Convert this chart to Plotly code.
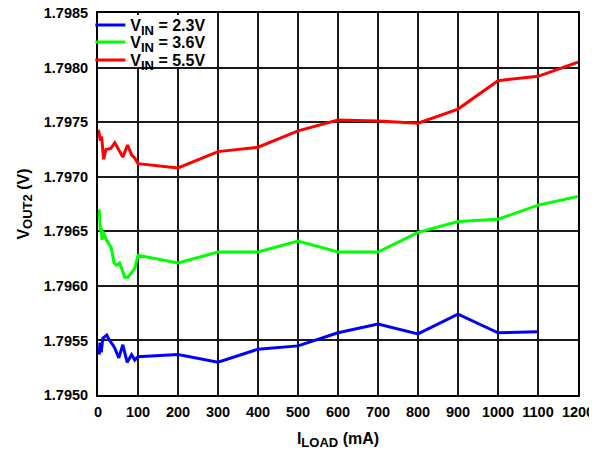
import plotly.graph_objects as go

# Data
blue_x = [3, 5, 8, 12, 22, 29, 37, 42, 52, 62, 73, 84, 92, 100,
          200, 300, 400, 500, 600, 700, 800, 900, 1000, 1100]
blue_y = [1.79537, 1.79548, 1.79539, 1.79552, 1.79555, 1.79550, 1.79546, 1.79543,
          1.79534, 1.79546, 1.79530, 1.79537, 1.79532, 1.79535,
          1.79537, 1.79530, 1.79542, 1.79545, 1.79557, 1.79565, 1.79556, 1.79574,
          1.79557, 1.79558]

green_x = [3, 6, 8, 10, 12, 21, 33, 40, 46, 54, 67, 75, 92, 100,
           200, 300, 400, 500, 600, 700, 800, 900, 1000, 1100, 1200]
green_y = [1.79670, 1.79650, 1.79653, 1.79642, 1.79650, 1.79642, 1.79635, 1.79621,
           1.79619, 1.79621, 1.79608, 1.79608, 1.79616, 1.79628,
           1.79621, 1.79631, 1.79631, 1.79641, 1.79631, 1.79631, 1.79649, 1.79659,
           1.79661, 1.79674, 1.79682]

red_x = [1, 6, 9, 14, 20, 32, 42, 47, 62, 74, 84, 92, 100,
         200, 300, 400, 500, 600, 700, 800, 900, 1000, 1100, 1200]
red_y = [1.79743, 1.79733, 1.79737, 1.79716, 1.79725, 1.79726, 1.79731, 1.79728,
         1.79718, 1.79729, 1.79720, 1.79717, 1.79712,
         1.79708, 1.79723, 1.79727, 1.79742, 1.79752, 1.79751, 1.79749, 1.79762,
         1.79788, 1.79792, 1.79805]

SUB = '<sub><span style="font-size:13px">{}</span></sub>'
series_names = ["V" + SUB.format("IN") + " = 2.3V",
                "V" + SUB.format("IN") + " = 3.6V",
                "V" + SUB.format("IN") + " = 5.5V"]
series_colors = ["#0000FF", "#00FF00", "#FF0000"]

x_ticks = list(range(0, 1201, 100))
y_ticks = [1.7950, 1.7955, 1.7960, 1.7965, 1.7970, 1.7975, 1.7980, 1.7985]

FONT = "Liberation Sans"
PLOT_H = 382.0
FIG_H = 443.0

fig = go.Figure()
legend_ids = ["legend", "legend2", "legend3"]
for xs, ys, name, color, lg in zip([blue_x, green_x, red_x], [blue_y, green_y, red_y],
                                   series_names, series_colors, legend_ids):
    fig.add_trace(go.Scatter(x=xs, y=ys, mode="lines", name=name, legend=lg,
                             line=dict(color=color, width=3)))

axis_common = dict(
    showgrid=True, gridcolor="#1a1a1a", gridwidth=1.5,
    showline=True, linecolor="black", linewidth=2, mirror=True,
    ticks="", zeroline=False, automargin=False, ticklabeloverflow="allow",
    tickfont=dict(family=FONT, size=14.5, color="black", weight="bold"),
)

fig.update_xaxes(range=[0, 1200], tickvals=x_ticks, ticklabelstandoff=3,
                 title=dict(text="I" + SUB.format("LOAD") + " (mA)",
                            font=dict(family=FONT, size=16, color="black", weight="bold"),
                            standoff=13),
                 **axis_common)
fig.update_yaxes(range=[1.7950, 1.7985], tickvals=y_ticks, tickformat=".4f",
                 ticklabelstandoff=5,
                 title=dict(text="V" + SUB.format("OUT2") + " (V)",
                            font=dict(family=FONT, size=16, color="black", weight="bold"),
                            standoff=10),
                 **axis_common)

# white panel behind the legend (hides the grid there, like the reference)
fig.add_shape(type="rect", xref="paper", yref="paper",
              x0=0.004, x1=0.245, y0=1 - 54 / PLOT_H, y1=0.995,
              fillcolor="white", line=dict(width=0), layer="above")

legend_style = dict(xanchor="left", yanchor="top", x=-0.016, yref="container",
                    bgcolor="rgba(0,0,0,0)", borderwidth=0, itemwidth=30,
                    font=dict(family=FONT, size=16, color="black", weight="bold"))
fig.update_layout(
    width=589, height=443,
    margin=dict(l=90, r=19, t=5, b=56, autoexpand=False),
    paper_bgcolor="white", plot_bgcolor="white",
    showlegend=True,
    legend=dict(y=1.0, **legend_style),
    legend2=dict(y=1 - 17 / FIG_H, **legend_style),
    legend3=dict(y=1 - 35 / FIG_H, **legend_style),
)

fig.write_html("out.html")
